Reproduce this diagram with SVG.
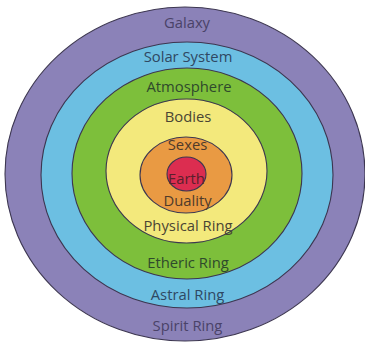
<svg xmlns="http://www.w3.org/2000/svg" width="365" height="342" viewBox="0 0 365 342">
<style>
.ring{stroke:#3c3650;stroke-width:1.1}
.lbl{font-family:"Open Sans","Liberation Sans",sans-serif;font-size:14.8px;text-anchor:middle}
#galaxy text{fill:#4a4368}
#solar-system text{fill:#2f4863}
#atmosphere text{fill:#2f4a2c}
#bodies text{fill:#4a4534}
#sexes text{fill:#4f3a2a}
#earth text{fill:#5a1f2c}
</style>
<rect width="365" height="342" fill="#ffffff"/>
<g id="galaxy"><ellipse class="ring" cx="185" cy="174" rx="180" ry="167" fill="#8b82b8"/><text class="lbl" x="187" y="28">Galaxy</text><text class="lbl" x="187.5" y="331">Spirit Ring</text></g>
<g id="solar-system"><ellipse class="ring" cx="187" cy="175" rx="146" ry="133" fill="#6cbfe2"/><text class="lbl" x="188" y="62">Solar System</text><text class="lbl" x="187.5" y="300">Astral Ring</text></g>
<g id="atmosphere"><ellipse class="ring" cx="187" cy="173.5" rx="115" ry="105.5" fill="#7dbf3b"/><text class="lbl" x="189" y="92">Atmosphere</text><text class="lbl" x="188" y="268">Etheric Ring</text></g>
<g id="bodies"><ellipse class="ring" cx="186.5" cy="171" rx="80.5" ry="72" fill="#f3e97c"/><text class="lbl" x="188" y="122">Bodies</text><text class="lbl" x="188" y="231">Physical Ring</text></g>
<g id="sexes"><ellipse class="ring" cx="186" cy="175" rx="46" ry="38" fill="#e99a43"/><text class="lbl" x="187.5" y="150">Sexes</text><text class="lbl" x="187.5" y="206">Duality</text></g>
<g id="earth"><ellipse class="ring" cx="186.5" cy="174" rx="19.5" ry="17" fill="#dc2d50"/><text class="lbl" x="186.5" y="184">Earth</text></g>
</svg>
